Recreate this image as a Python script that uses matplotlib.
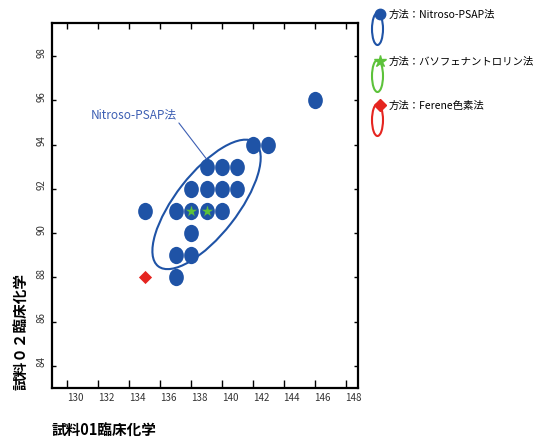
import matplotlib
matplotlib.use("Agg")
import matplotlib.pyplot as plt
from matplotlib.patches import Ellipse
from matplotlib.path import Path
from matplotlib.transforms import ScaledTranslation, Affine2D

plt.rcParams['font.family'] = ['Liberation Sans Narrow', 'Noto Sans CJK JP', 'DejaVu Sans']

# Measurements: sample 01 (x) vs sample 02 (y), clinical chemistry
nitroso_x = [146, 142, 143, 139, 140, 141, 138, 139, 140, 141,
             135, 137, 138, 139, 140, 138, 137, 138, 137]
nitroso_y = [96, 94, 94, 93, 93, 93, 92, 92, 92, 92,
             91, 91, 91, 91, 91, 90, 89, 89, 88]
batho_x = [138, 139]
batho_y = [91, 91]
ferene_x = [135]
ferene_y = [88]

x_ticks = [130, 132, 134, 136, 138, 140, 142, 144, 146, 148]
y_ticks = [84, 86, 88, 90, 92, 94, 96, 98]

method_labels = ["方法：Nitroso-PSAP法",
                 "方法：バソフェナントロリン法",
                 "方法：Ferene色素法"]
callout_label = "Nitroso-PSAP法"
x_label = "試料01臨床化学"
y_label = "試料０２臨床化学"

BLUE = "#1f53a6"
GREEN = "#5cc23a"
RED = "#e52520"

W, H = 535, 439
fig = plt.figure(figsize=(W / 100, H / 100), dpi=100)
ax = fig.add_axes([52 / W, 1 - 389 / H, (358 - 52) / W, (389 - 24) / H])

# slightly tall oval marker for the circles
oval = Path.unit_circle().transformed(Affine2D().scale(0.85, 1.0))

ax.scatter(nitroso_x, nitroso_y, marker=oval, s=155, color=BLUE,
           linewidths=0, zorder=3)
ax.scatter(batho_x, batho_y, marker='*', s=95, color=GREEN,
           edgecolors=BLUE, linewidths=0.4, zorder=4)
ax.scatter(ferene_x, ferene_y, marker='D', s=45, color=RED,
           linewidths=0, zorder=4)

# grouping ellipse around the Nitroso-PSAP cluster (sized in screen units)
cx, cy = 139.0, 91.3
grp = Ellipse((0, 0), width=1.57, height=0.62, angle=52, fill=False,
              edgecolor=BLUE, linewidth=1.5,
              transform=fig.dpi_scale_trans + ScaledTranslation(cx, cy, ax.transData),
              zorder=2)
ax.add_artist(grp)

ax.annotate(callout_label, xy=(139.0, 93.35), xytext=(131.5, 95.4),
            ha='left', va='center', fontsize=8.5, color="#3d5fb3",
            family=['Liberation Sans Narrow', 'Noto Sans CJK JP'],
            arrowprops=dict(arrowstyle='-', color="#3d5fb3", lw=0.8,
                            relpos=(1.0, 0.0), shrinkA=0, shrinkB=0))

ax.set_xlim(129.0, 148.8)
ax.set_ylim(83.0, 99.5)
ax.set_xticks(x_ticks)
ax.set_yticks(y_ticks)
ax.set_xticklabels([str(v) for v in x_ticks])
ax.set_yticklabels([str(v) for v in y_ticks])

for s in ax.spines.values():
    s.set_linewidth(1.6)
    s.set_color('black')

ax.tick_params(axis='x', bottom=True, top=True, direction='in', length=4,
               width=1, labelsize=7, pad=3, colors='black',
               labelcolor='#333333')
for t in ax.xaxis.get_major_ticks():
    t.tick1line.set_marker(2)  # crossing mark at bottom spine
    t.tick1line.set_markersize(6)
ax.tick_params(axis='y', left=True, right=True, direction='in', length=3,
               width=1, labelsize=7, pad=4, labelrotation=90,
               labelcolor='#333333')

for lab in ax.get_xticklabels():
    lab.set_transform(lab.get_transform() + ScaledTranslation(0.08, 0, fig.dpi_scale_trans))
for lab in ax.get_yticklabels():
    lab.set_transform(lab.get_transform() + ScaledTranslation(0, 0.05, fig.dpi_scale_trans))
    lab.set_va('center')

cjk_bold = dict(family=['Noto Sans CJK JP'], fontweight='bold', fontsize=10.5)
fig.text(52 / W, 1 - 430 / H, x_label, ha='left', va='center', **cjk_bold)
fig.text(20 / W, 1 - 390 / H, y_label, ha='center', va='bottom',
         rotation=90, **cjk_bold)

# method key on the right
key_rows = [(15, BLUE, 'o', 7.5), (62, GREEN, '*', 9), (106, RED, 'D', 6)]
for (yy, col, mk, ms), text in zip(key_rows, method_labels):
    ell = Ellipse((377.5 / W, 1 - (yy + 15) / H), width=11 / W, height=32 / H,
                  fill=False, edgecolor=col, linewidth=1.5,
                  transform=fig.transFigure)
    fig.add_artist(ell)
    fig.add_artist(plt.Line2D([380 / W], [1 - yy / H], marker=mk, color=col,
                              markersize=ms, linestyle='none',
                              transform=fig.transFigure))
    fig.text(389 / W, 1 - yy / H, text, ha='left', va='center', fontsize=7.5,
             family=['Liberation Sans Narrow', 'Noto Sans CJK JP'])

fig.savefig("out.png", dpi=100)
